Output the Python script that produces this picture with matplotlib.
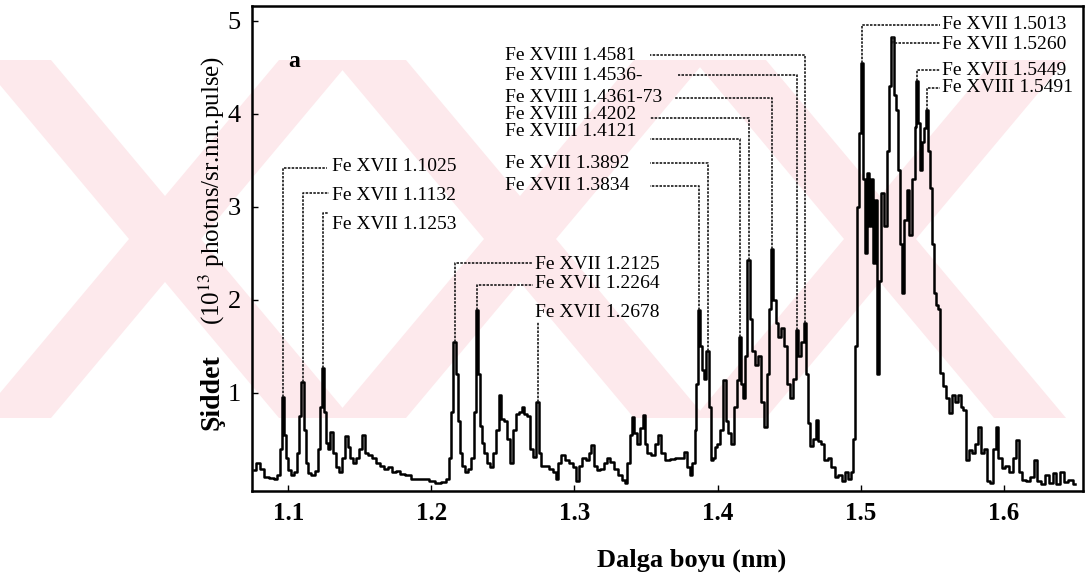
import matplotlib
matplotlib.use("Agg")
import matplotlib.pyplot as plt
from matplotlib.patches import Polygon

plt.rcParams['font.family'] = ['Liberation Serif', 'DejaVu Serif']
plt.rcParams['mathtext.fontset'] = 'stix'

# spectrum (nm, 10^13 photons/sr.nm.pulse)
wavelength = [
    1.0760, 1.0788, 1.0816, 1.0844, 1.0886, 1.0914, 1.0935, 1.0949, 1.0963, 1.0977,
    1.0991, 1.1012, 1.1033, 1.1054, 1.1068, 1.1082, 1.1103, 1.1117, 1.1131, 1.1152,
    1.1173, 1.1201, 1.1215, 1.1229, 1.1243, 1.1257, 1.1271, 1.1285, 1.1306, 1.1320,
    1.1341, 1.1362, 1.1383, 1.1404, 1.1425, 1.1445, 1.1466, 1.1487, 1.1508, 1.1529,
    1.1543, 1.1571, 1.1599, 1.1627, 1.1655, 1.1683, 1.1711, 1.1739, 1.1767, 1.1795,
    1.1837, 1.1879, 1.1921, 1.1963, 1.2004, 1.2046, 1.2088, 1.2116, 1.2130, 1.2144,
    1.2165, 1.2179, 1.2193, 1.2207, 1.2228, 1.2249, 1.2270, 1.2291, 1.2305, 1.2319,
    1.2333, 1.2347, 1.2361, 1.2382, 1.2403, 1.2424, 1.2445, 1.2466, 1.2480, 1.2494,
    1.2515, 1.2536, 1.2557, 1.2578, 1.2599, 1.2620, 1.2641, 1.2661, 1.2682, 1.2703,
    1.2724, 1.2745, 1.2759, 1.2780, 1.2808, 1.2836, 1.2864, 1.2878, 1.2899, 1.2920,
    1.2948, 1.2976, 1.3004, 1.3025, 1.3046, 1.3067, 1.3088, 1.3109, 1.3123, 1.3144,
    1.3165, 1.3192, 1.3220, 1.3241, 1.3262, 1.3290, 1.3318, 1.3346, 1.3360, 1.3381,
    1.3395, 1.3409, 1.3430, 1.3451, 1.3472, 1.3486, 1.3500, 1.3521, 1.3549, 1.3577,
    1.3598, 1.3619, 1.3647, 1.3682, 1.3717, 1.3752, 1.3773, 1.3794, 1.3815, 1.3835,
    1.3849, 1.3856, 1.3870, 1.3884, 1.3898, 1.3912, 1.3933, 1.3947, 1.3961, 1.3975,
    1.3989, 1.4010, 1.4031, 1.4052, 1.4066, 1.4087, 1.4108, 1.4129, 1.4143, 1.4157,
    1.4171, 1.4185, 1.4199, 1.4220, 1.4234, 1.4248, 1.4269, 1.4290, 1.4311, 1.4332,
    1.4353, 1.4367, 1.4381, 1.4395, 1.4416, 1.4436, 1.4457, 1.4478, 1.4499, 1.4520,
    1.4541, 1.4555, 1.4576, 1.4597, 1.4611, 1.4625, 1.4639, 1.4660, 1.4681, 1.4695,
    1.4716, 1.4737, 1.4758, 1.4786, 1.4807, 1.4828, 1.4856, 1.4877, 1.4898, 1.4919,
    1.4940, 1.4954, 1.4968, 1.4982, 1.4996, 1.5010, 1.5024, 1.5038, 1.5052, 1.5065,
    1.5079, 1.5093, 1.5107, 1.5121, 1.5135, 1.5156, 1.5177, 1.5191, 1.5205, 1.5226,
    1.5240, 1.5254, 1.5268, 1.5282, 1.5296, 1.5317, 1.5331, 1.5352, 1.5373, 1.5387,
    1.5394, 1.5408, 1.5422, 1.5436, 1.5450, 1.5464, 1.5478, 1.5492, 1.5506, 1.5520,
    1.5534, 1.5548, 1.5562, 1.5583, 1.5604, 1.5625, 1.5646, 1.5667, 1.5688, 1.5708,
    1.5729, 1.5750, 1.5771, 1.5792, 1.5813, 1.5834, 1.5855, 1.5876, 1.5897, 1.5918,
    1.5939, 1.5953, 1.5974, 1.5995, 1.6023, 1.6051, 1.6072, 1.6093, 1.6114, 1.6142,
    1.6170, 1.6198, 1.6219, 1.6240, 1.6275, 1.6303, 1.6324, 1.6358, 1.6379, 1.6414,
    1.6435, 1.6470, 1.6498,
]
intensity = [
    0.17, 0.25, 0.18, 0.10, 0.09, 0.07, 0.12, 0.40, 0.96, 0.55,
    0.30, 0.17, 0.12, 0.15, 0.35, 0.75, 1.12, 0.60, 0.25, 0.14,
    0.12, 0.16, 0.40, 0.85, 1.27, 0.80, 0.46, 0.40, 0.58, 0.35,
    0.20, 0.15, 0.30, 0.54, 0.42, 0.30, 0.25, 0.30, 0.40, 0.55,
    0.35, 0.33, 0.30, 0.25, 0.22, 0.18, 0.20, 0.15, 0.16, 0.13,
    0.12, 0.08, 0.07, 0.07, 0.05, 0.03, 0.04, 0.08, 0.30, 0.80,
    1.55, 1.20, 0.70, 0.35, 0.22, 0.15, 0.18, 0.30, 0.80, 1.89,
    1.20, 0.65, 0.46, 0.35, 0.25, 0.20, 0.35, 0.60, 0.98, 0.72,
    0.70, 0.50, 0.25, 0.60, 0.77, 0.80, 0.85, 0.77, 0.75, 0.40,
    0.31, 0.90, 0.35, 0.22, 0.21, 0.18, 0.15, 0.08, 0.25, 0.33,
    0.28, 0.25, 0.20, 0.05, 0.22, 0.30, 0.28, 0.35, 0.44, 0.22,
    0.17, 0.18, 0.25, 0.30, 0.26, 0.18, 0.12, 0.06, 0.03, 0.25,
    0.55, 0.74, 0.57, 0.45, 0.62, 0.76, 0.45, 0.35, 0.33, 0.45,
    0.55, 0.35, 0.28, 0.29, 0.30, 0.30, 0.36, 0.20, 0.12, 0.25,
    0.60, 1.10, 1.89, 1.50, 1.25, 1.15, 1.45, 0.85, 0.28, 0.30,
    0.42, 0.45, 0.60, 1.14, 0.70, 0.57, 0.45, 0.85, 1.14, 1.60,
    1.10, 0.95, 1.40, 2.43, 1.80, 1.45, 1.30, 1.40, 0.90, 0.63,
    1.20, 1.90, 2.55, 2.00, 1.75, 1.60, 1.70, 1.50, 1.10, 0.95,
    1.15, 1.68, 1.40, 1.55, 1.75, 1.20, 0.68, 0.43, 0.50, 0.71,
    0.48, 0.45, 0.28, 0.30, 0.20, 0.10, 0.12, 0.05, 0.15, 0.08,
    0.15, 0.50, 1.50, 3.00, 3.80, 4.55, 3.30, 2.50, 3.36, 2.80,
    3.30, 2.40, 3.07, 1.20, 2.20, 3.15, 2.80, 3.60, 4.30, 4.83,
    4.20, 4.04, 3.40, 2.60, 2.07, 2.86, 3.18, 2.70, 3.30, 3.86,
    4.35, 3.90, 3.40, 3.70, 3.85, 4.04, 3.60, 3.20, 2.60, 2.07,
    1.95, 1.90, 1.21, 1.08, 0.95, 0.78, 0.98, 0.90, 0.98, 0.85,
    0.82, 0.28, 0.39, 0.35, 0.45, 0.63, 0.35, 0.40, 0.05, 0.03,
    0.40, 0.63, 0.30, 0.19, 0.22, 0.15, 0.30, 0.49, 0.15, 0.06,
    0.05, 0.10, 0.28, 0.05, 0.02, 0.12, 0.03, 0.14, 0.02, 0.15,
    0.04, 0.06, 0.02,
]

# identified lines: peak position, leader height, where the leader bends to, label spot
line_names = [
    "Fe XVII 1.1025", "Fe XVII 1.1132", "Fe XVII 1.1253",
    "Fe XVII 1.2125", "Fe XVII 1.2264", "Fe XVII 1.2678",
    "Fe XVII 1.3834", "Fe XVII 1.3892", "Fe XVIII 1.4121", "Fe XVIII 1.4202",
    "Fe XVIII 1.4361-73", "Fe XVIII 1.4536-", "Fe XVIII 1.4581",
    "Fe XVII 1.5013", "Fe XVII 1.5260", "Fe XVII 1.5449", "Fe XVIII 1.5491",
]
line_wl = [1.0963, 1.1103, 1.1243, 1.2165, 1.2319, 1.2745,
           1.3870, 1.3933, 1.4157, 1.4220, 1.4381, 1.4555, 1.4611,
           1.5010, 1.5226, 1.5394, 1.5464]
leader_level = [3.42, 3.15, 2.94, 2.40, 2.16, 1.76,
                3.22, 3.47, 3.73, 3.96, 4.17, 4.42, 4.63,
                4.96, 4.76, 4.47, 4.28]
leader_end = [1.1271, 1.1285, 1.1285, 1.2710, 1.2710, 1.2745,
              1.3528, 1.3528, 1.3528, 1.3528, 1.3703, 1.3724, 1.3528,
              1.5555, 1.5555, 1.5555, 1.5555]
label_wl = [1.1306, 1.1306, 1.1306, 1.2724, 1.2724, 1.2724,
            1.2515, 1.2515, 1.2515, 1.2515, 1.2515, 1.2515, 1.2515,
            1.5569, 1.5569, 1.5569, 1.5569]
label_level = [3.43, 3.12, 2.81, 2.38, 2.18, 1.87,
               3.23, 3.47, 3.81, 3.99, 4.18, 4.41, 4.63,
               4.96, 4.75, 4.47, 4.28]

W, H = 1089, 586
fig = plt.figure(figsize=(W / 100, H / 100), dpi=100)

# faint pink watermark behind the plot (figure pixels)
def px(x, y):
    return (x / W, 1 - y / H)

wm_top, wm_bot = 60, 418
for cx in [165, 520, 880]:
    for sgn in [1, -1]:
        pts = [px(cx - sgn * 150 - 36, wm_top), px(cx - sgn * 150 + 36, wm_top),
               px(cx + sgn * 150 + 36, wm_bot), px(cx + sgn * 150 - 36, wm_bot)]
        fig.add_artist(Polygon(pts, closed=True, transform=fig.transFigure,
                               facecolor='#fde9ec', edgecolor='none', zorder=0))

ax = fig.add_axes([252 / W, 1 - 491 / H, (1083 - 252) / W, (491 - 6) / H])
ax.patch.set_alpha(0)

ax.plot(wavelength, intensity, drawstyle='steps-mid', color='black', lw=1.8)

for name, w, lev, end, lx, ly in zip(line_names, line_wl, leader_level,
                                     leader_end, label_wl, label_level):
    top = intensity[wavelength.index(w)]
    ax.plot([w, w, end], [top, lev, lev], color='#1a1a1a', lw=1.2,
            linestyle=(0, (1.5, 0.8)))
    ax.text(lx, ly, name, fontsize=14, ha='left', va='center')

ax.text(1.1040, 4.56, "a", fontsize=17, fontweight='bold', ha='center', va='center')

ax.set_xlim(1.0747, 1.6554)
ax.set_ylim(-0.054, 5.16)
ax.set_xticks([1.1, 1.2, 1.3, 1.4, 1.5, 1.6])
ax.set_xticklabels(["1.1", "1.2", "1.3", "1.4", "1.5", "1.6"], fontsize=18,
                   fontweight='bold')
ax.set_yticks([1, 2, 3, 4, 5])
ax.set_yticklabels(["1", "2", "3", "4", "5"], fontsize=19)
ax.tick_params(direction='in', length=4, width=1, pad=8)
for sp in ax.spines.values():
    sp.set_linewidth(1.8)

fig.text(692 / W, 1 - 560 / H, "Dalga boyu (nm)", fontsize=19, fontweight='bold',
         ha='center', va='center')
fig.text(212 / W, 1 - 392 / H, "Şiddet", fontsize=20, fontweight='bold',
         rotation=90, ha='center', va='center')
fig.text(212 / W, 1 - 190 / H, "(10$^{13}$ photons/sr.nm.pulse)", fontsize=18,
         rotation=90, ha='center', va='center')

fig.savefig("out.png", dpi=100)
